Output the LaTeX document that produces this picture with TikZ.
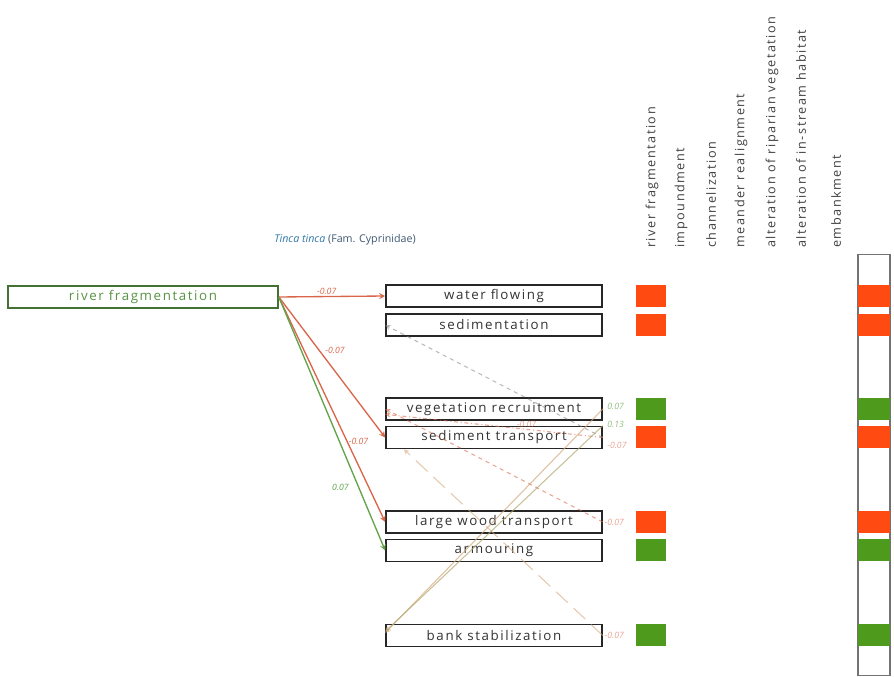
\documentclass[tikz,border=0pt]{standalone}
\usepackage{fontspec}
\setmainfont{Open Sans}
\newfontfamily\spaced[LetterSpace=12]{Open Sans}
\usetikzlibrary{positioning}

\definecolor{neg}{HTML}{FF4A12}
\definecolor{pos}{HTML}{4E9A1C}
\definecolor{negln}{HTML}{D9664A}
\definecolor{posln}{HTML}{62A34A}
\definecolor{tanln}{HTML}{D2A679}
\definecolor{ttl}{HTML}{2F78A8}
\definecolor{fam}{HTML}{3E5873}

\begin{document}
\begin{tikzpicture}[x=0.75pt,y=-0.75pt,>=stealth,
	box/.style={draw=black!85, line width=1.2pt, minimum width=162pt, minimum height=16.5pt, inner sep=0pt, font=\spaced\fontsize{10}{12}\selectfont, text=black!80},
	cell/.style={minimum width=22.5pt, minimum height=16.5pt, inner sep=0pt},
	band/.style={minimum width=24pt, minimum height=16.5pt, inner sep=0pt},
	hdr/.style={rotate=90, anchor=west, inner sep=0pt, font=\spaced\fontsize{9.5}{11}\selectfont, text=black!75},
	w/.style={font=\fontsize{6.5}{7}\selectfont\itshape, inner sep=1pt},
	sol/.style={->, line width=1pt},
	dsh/.style={->, line width=0.8pt, dashed, opacity=0.6}]
	
	\useasboundingbox (0,0) rectangle (894,677);
	
	% Title
	\node[font=\fontsize{8}{10}\selectfont, text=fam] (ttl) at (345,240) {\textcolor{ttl}{\textit{Tinca tinca}} (Fam. Cyprinidae)};
	
	% Pressure
	\node[box, draw=posln!70!black, text=posln!90!black, minimum width=202.5pt] (rf) at (143,297) {river fragmentation};
	
	% Processes
	\node[box] (wf) at (494,296) {water flowing};
	\node[box] (sd) at (494,325) {sedimentation};
	\node[box] (vr) at (494,409) {vegetation recruitment};
	\node[box] (st) at (494,437.5) {sediment transport};
	\node[box] (lw) at (494,522) {large wood transport};
	\node[box] (ar) at (494,550.5) {armouring};
	\node[box] (bs) at (494,635.5) {bank stabilization};
	
	% Column heads
	\node[hdr] (h1) at (652,248) {river fragmentation};
	\node[hdr] (h2) at (681,248) {impoundment};
	\node[hdr] (h3) at (711,248) {channelization};
	\node[hdr] (h4) at (741,248) {meander realignment};
	\node[hdr] (h5) at (772,248) {alteration of riparian vegetation};
	\node[hdr] (h6) at (801,248) {alteration of in-stream habitat};
	\node[hdr] (h7) at (836,248) {embankment};
	
	% Effect cells
	\node[cell, fill=neg] (c1) at (651,296) {};
	\node[cell, fill=neg] (c2) at (651,325) {};
	\node[cell, fill=pos] (c3) at (651,409) {};
	\node[cell, fill=neg] (c4) at (651,437.5) {};
	\node[cell, fill=neg] (c5) at (651,522) {};
	\node[cell, fill=pos] (c6) at (651,550.5) {};
	\node[cell, fill=pos] (c7) at (651,635.5) {};
	
	% Summary bar
	\node[draw=black!55, line width=1pt, minimum width=24pt, minimum height=316pt, inner sep=0pt] (bar) at (874,465) {};
	\node[band, fill=neg] (b1) at (874,296) {};
	\node[band, fill=neg] (b2) at (874,325) {};
	\node[band, fill=pos] (b3) at (874,409) {};
	\node[band, fill=neg] (b4) at (874,437.5) {};
	\node[band, fill=neg] (b5) at (874,522) {};
	\node[band, fill=pos] (b6) at (874,550.5) {};
	\node[band, fill=pos] (b7) at (874,635.5) {};
	
	% Direct effects
	\draw[sol, negln] (rf.east) -- node[w, above, pos=0.45, text=negln] {-0.07} (wf.west);
	\draw[sol, negln] (rf.east) -- node[w, above right, pos=0.42, text=negln] {-0.07} (st.west);
	\draw[sol, negln] (rf.east) -- node[w, right, pos=0.64, text=negln] {-0.07} (lw.west);
	\draw[sol, posln] (rf.east) -- node[w, left=6pt, pos=0.75, text=posln] {0.07} (ar.west);
	
	% Indirect effects
	\draw[dsh, black!45] (st.east) -- node[w, at start, anchor=west, yshift=-6pt, xshift=2pt, text=negln] {-0.07} (sd.west);
	\draw[dsh, negln] (lw.east) -- node[w, at start, right, text=negln] {-0.07} (vr.west);
	\draw[dsh, tanln, dash pattern=on 12pt off 6pt] (bs.east) -- node[w, at start, right, text=negln] {-0.07} ([xshift=14pt]st.south west);
	\draw[dsh, dash dot, negln] (st.east) -- node[w, pos=0.35, above, text=negln] {-0.07} ([yshift=-4pt]vr.west);
	\draw[->, tanln, line width=0.8pt, opacity=0.7] (vr.east) -- node[w, at start, anchor=west, yshift=2pt, xshift=2pt, text=posln] {0.07} ([yshift=2pt]bs.west);
	\draw[->, tanln!70!posln, line width=0.8pt, opacity=0.7] (st.north east) -- node[w, at start, anchor=west, yshift=1pt, xshift=2pt, text=posln] {0.13} ([yshift=3pt]bs.west);
	
\end{tikzpicture}
\end{document}
